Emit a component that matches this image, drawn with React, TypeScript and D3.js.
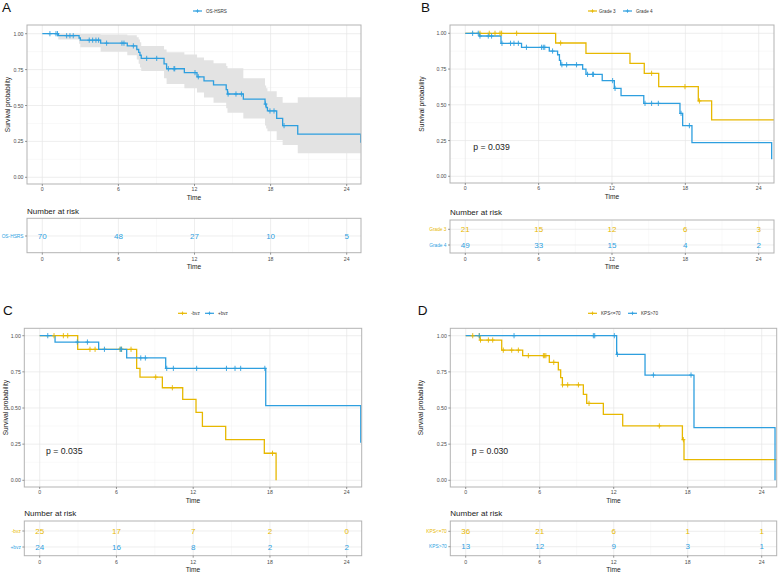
import React from 'react';
import * as d3 from 'd3';

const ORANGE = '#E7B800';
const BLUE = '#2E9FDF';
const FONT = '"Liberation Sans", Arial, Helvetica, sans-serif';

// ---------- Data ----------
const timeTicks = [0, 6, 12, 18, 24];
const timeMinor = [3, 9, 15, 21];
const survTicks = [0, 0.25, 0.5, 0.75, 1];
const survTickLabels = ['0.00', '0.25', '0.50', '0.75', '1.00'];
const survMinor = [0.125, 0.375, 0.625, 0.875];

// Panel A: OS-HSRS
const A_time = [0, 1.26, 2.9, 3.0, 4.6, 6.7, 7.45, 7.6, 7.7, 7.8, 9.6, 9.8, 11.2, 12.2, 12.75, 13.5, 14.5, 14.6, 15.85, 17.56, 17.65, 17.75, 18.48, 18.95, 20.14, 25.1];
const A_surv = [1, 0.986, 0.97, 0.955, 0.934, 0.915, 0.89, 0.87, 0.85, 0.828, 0.79, 0.756, 0.729, 0.70, 0.672, 0.644, 0.61, 0.58, 0.545, 0.51, 0.486, 0.462, 0.41, 0.36, 0.30, 0.24];
const A_upper = [1, 1, 1, 0.998, 0.995, 0.99, 0.975, 0.96, 0.94, 0.915, 0.89, 0.87, 0.855, 0.835, 0.815, 0.795, 0.775, 0.76, 0.69, 0.64, 0.62, 0.60, 0.56, 0.52, 0.557, 0.557];
const A_lower = [1, 0.96, 0.93, 0.905, 0.875, 0.85, 0.82, 0.79, 0.765, 0.74, 0.69, 0.65, 0.62, 0.59, 0.555, 0.52, 0.48, 0.45, 0.41, 0.36, 0.34, 0.32, 0.26, 0.225, 0.167, 0.12];
const A_censor = [0.6, 1.08, 1.2, 1.92, 2.18, 2.44, 3.7, 3.97, 4.23, 4.44, 5.07, 6.28, 6.44, 7.18, 8.23, 9.02, 9.94, 10.38, 10.44, 12.04, 12.3, 14.65, 15.27, 15.7, 17.6, 17.95, 18.27, 19.06];
const A_risk = [70, 48, 27, 10, 5];

// Panel B: Grade 3 / Grade 4
const B3_time = [0, 7.39, 9.87, 13.47, 14.64, 15.82, 19.06, 20.15, 25.4];
const B3_surv = [1, 0.932, 0.86, 0.79, 0.72, 0.627, 0.527, 0.394, 0.394];
const B3_censor = [1.2, 1.96, 2.43, 2.84, 2.97, 4.2, 7.8, 15.24, 17.97, 19.15];
const B3_risk = [21, 15, 12, 6, 3];
const B4_time = [0, 1.15, 2.92, 4.6, 6.87, 7.55, 7.7, 7.8, 9.6, 9.87, 11.2, 12.19, 12.74, 14.6, 17.56, 17.78, 18.54, 25.06];
const B4_surv = [1, 0.981, 0.93, 0.902, 0.876, 0.85, 0.81, 0.78, 0.75, 0.713, 0.669, 0.615, 0.564, 0.51, 0.44, 0.354, 0.235, 0.119];
const B4_censor = [0.6, 1.06, 1.2, 1.88, 2.15, 3.0, 3.7, 3.98, 4.34, 5.0, 6.24, 6.38, 6.5, 7.14, 7.9, 8.29, 9.1, 10.0, 10.42, 10.48, 12.05, 12.25, 14.7, 15.24, 15.79, 17.65, 18.33];
const B4_risk = [49, 33, 15, 4, 2];

// Panel C: -bvz / +bvz
const C1_time = [0, 2.97, 7.58, 7.84, 9.59, 11.18, 12.22, 12.72, 14.54, 17.56, 18.48];
const C1_surv = [1, 0.906, 0.774, 0.714, 0.64, 0.56, 0.47, 0.373, 0.281, 0.187, 0];
const C1_censor = [1.12, 1.85, 2.19, 3.93, 4.33, 6.28, 6.4, 7.14, 9.07, 10.37, 18.2];
const C1_risk = [25, 17, 7, 2, 0];
const C2_time = [0, 1.2, 4.61, 6.8, 9.85, 17.67, 25.1];
const C2_surv = [1, 0.956, 0.906, 0.846, 0.774, 0.516, 0.26];
const C2_censor = [0.63, 2.94, 3.73, 5.06, 6.3, 6.4, 7.9, 8.26, 9.93, 10.45, 12.27, 14.6, 15.27, 15.71, 17.6];
const C2_risk = [24, 16, 8, 2, 2];

// Panel D: KPS<=70 / KPS>70
const D1_time = [0, 1.16, 2.92, 4.62, 6.78, 7.51, 7.7, 7.84, 9.54, 9.81, 11.16, 12.73, 17.57, 17.7, 25.4];
const D1_surv = [1, 0.97, 0.90, 0.862, 0.816, 0.763, 0.71, 0.66, 0.594, 0.532, 0.456, 0.376, 0.281, 0.143, 0.143];
const D1_censor = [0.57, 1.1, 1.2, 1.84, 2.19, 3.05, 3.73, 4.27, 5.08, 6.3, 6.4, 6.5, 7.14, 7.85, 8.27, 9.14, 10.0, 15.7, 17.65];
const D1_risk = [36, 21, 6, 1, 1];
const D2_time = [0, 12.24, 14.54, 18.51, 25.08];
const D2_surv = [1, 0.871, 0.728, 0.364, 0];
const D2_censor = [1.1, 3.92, 10.35, 10.46, 12.05, 12.3, 15.22, 18.27];
const D2_risk = [13, 12, 9, 3, 1];

type Series = {
  name: string; color: string; time: number[]; surv: number[]; censor: number[];
  upper?: number[]; lower?: number[]; risk: number[];
};

const panelA: Series[] = [
  { name: 'OS-HSRS', color: BLUE, time: A_time, surv: A_surv, censor: A_censor, upper: A_upper, lower: A_lower, risk: A_risk },
];
const panelB: Series[] = [
  { name: 'Grade 3', color: ORANGE, time: B3_time, surv: B3_surv, censor: B3_censor, risk: B3_risk },
  { name: 'Grade 4', color: BLUE, time: B4_time, surv: B4_surv, censor: B4_censor, risk: B4_risk },
];
const panelC: Series[] = [
  { name: '-bvz', color: ORANGE, time: C1_time, surv: C1_surv, censor: C1_censor, risk: C1_risk },
  { name: '+bvz', color: BLUE, time: C2_time, surv: C2_surv, censor: C2_censor, risk: C2_risk },
];
const panelD: Series[] = [
  { name: 'KPS<=70', color: ORANGE, time: D1_time, surv: D1_surv, censor: D1_censor, risk: D1_risk },
  { name: 'KPS>70', color: BLUE, time: D2_time, surv: D2_surv, censor: D2_censor, risk: D2_risk },
];

type Layout = {
  id: string; letter: string; letterX: number; letterY: number;
  legendY: number; legend: { lx: number; tx: number }[];
  px0: number; px1: number; py0: number; py1: number;
  t0: number; t24: number; s1: number; s0: number;
  yTitleX: number; pval?: { x: number; y: number; text: string };
  rTitleY: number; ry0: number; ry1: number; rows: number[];
};

const layouts: Layout[] = [
  { id: 'A', letter: 'A', letterX: 2, letterY: 12, legendY: 11, legend: [{ lx: 193, tx: 206 }],
    px0: 27, px1: 361, py0: 25, py1: 184, t0: 42.3, t24: 346.7, s1: 33.7, s0: 177.3, yTitleX: 7,
    rTitleY: 211, ry0: 218.3, ry1: 252.7, rows: [236] },
  { id: 'B', letter: 'B', letterX: 421, letterY: 12, legendY: 11, legend: [{ lx: 588, tx: 599 }, { lx: 623, tx: 636 }],
    px0: 450, px1: 774, py0: 25, py1: 183, t0: 465.3, t24: 758.7, s1: 33.3, s0: 176.3, yTitleX: 421.7,
    pval: { x: 473.3, y: 147.3, text: 'p = 0.039' },
    rTitleY: 212.3, ry0: 220, ry1: 253, rows: [229.3, 245] },
  { id: 'C', letter: 'C', letterX: 3, letterY: 315, legendY: 313.3, legend: [{ lx: 178, tx: 191 }, { lx: 205, tx: 218 }],
    px0: 24.3, px1: 361.7, py0: 328.3, py1: 487, t0: 39.7, t24: 346.7, s1: 335.7, s0: 480.3, yTitleX: 5,
    pval: { x: 46, y: 451, text: 'p = 0.035' },
    rTitleY: 513.7, ry0: 521, ry1: 555.7, rows: [531, 547] },
  { id: 'D', letter: 'D', letterX: 417.7, letterY: 315, legendY: 313.3, legend: [{ lx: 588, tx: 601 }, { lx: 628, tx: 641 }],
    px0: 450.3, px1: 776.7, py0: 328.3, py1: 487, t0: 465.7, t24: 761.7, s1: 335.7, s0: 480.3, yTitleX: 420,
    pval: { x: 471.7, y: 451, text: 'p = 0.030' },
    rTitleY: 513.7, ry0: 521, ry1: 555.7, rows: [531.3, 546.7] },
];

const panelSeries: Series[][] = [panelA, panelB, panelC, panelD];

function survAt(time: number[], surv: number[], t: number) {
  let s = surv[0];
  for (let i = 0; i < time.length; i++) if (time[i] <= t) s = surv[i];
  return s;
}

const GRID_MAJOR = '#e6e6e6';
const GRID_MINOR = '#f3f3f3';
const BORDER = '#b3b3b3';
const AXIS_TEXT = '#4d4d4d';
const TICK_FS = 5.2;

function Panel({ L, series }: { L: Layout; series: Series[] }) {
  const x = d3.scaleLinear().domain([0, 24]).range([L.t0, L.t24]);
  const y = d3.scaleLinear().domain([0, 1]).range([L.s0, L.s1]);
  const clipId = 'clip-' + L.id;
  const line = (s: Series) =>
    d3.line<number>().x(i => x(s.time[i])).y(i => y(s.surv[i])).curve(d3.curveStepAfter)(d3.range(s.time.length)) || '';
  const band = (s: Series) =>
    d3.area<number>().x(i => x(s.time[i])).y0(i => y(s.lower![i])).y1(i => y(s.upper![i])).curve(d3.curveStepAfter)(d3.range(s.time.length)) || '';
  const midY = (L.py0 + L.py1) / 2;
  return (
    <g>
      <text x={L.letterX} y={L.letterY} fontSize={13.5} fill="#111">{L.letter}</text>
      {/* legend */}
      {series.map((s, i) => {
        const lg = L.legend[i];
        const cx = lg.lx + 4.5;
        return (
          <g key={'lg' + i}>
            <line x1={lg.lx} x2={lg.lx + 9} y1={L.legendY} y2={L.legendY} stroke={s.color} strokeWidth={1.2} />
            <path d={`M${cx - 1.8},${L.legendY}H${cx + 1.8}M${cx},${L.legendY - 1.8}V${L.legendY + 1.8}`} stroke={s.color} strokeWidth={0.8} />
            <text x={lg.tx} y={L.legendY} dominantBaseline="central" fontSize={4.6} fill="#333">{s.name}</text>
          </g>
        );
      })}
      <defs>
        <clipPath id={clipId}>
          <rect x={L.px0} y={L.py0} width={L.px1 - L.px0} height={L.py1 - L.py0} />
        </clipPath>
      </defs>
      {/* grid */}
      {timeMinor.map(t => <line key={'vm' + t} x1={x(t)} x2={x(t)} y1={L.py0} y2={L.py1} stroke={GRID_MINOR} strokeWidth={0.5} />)}
      {survMinor.map(v => <line key={'hm' + v} x1={L.px0} x2={L.px1} y1={y(v)} y2={y(v)} stroke={GRID_MINOR} strokeWidth={0.5} />)}
      {timeTicks.map(t => <line key={'vM' + t} x1={x(t)} x2={x(t)} y1={L.py0} y2={L.py1} stroke={GRID_MAJOR} strokeWidth={0.7} />)}
      {survTicks.map(v => <line key={'hM' + v} x1={L.px0} x2={L.px1} y1={y(v)} y2={y(v)} stroke={GRID_MAJOR} strokeWidth={0.7} />)}
      <g clipPath={`url(#${clipId})`}>
        {series.filter(s => s.upper).map((s, i) => <path key={'band' + i} d={band(s)} fill="#e3e3e3" />)}
        {series.map((s, i) => <path key={'ln' + i} d={line(s)} fill="none" stroke={s.color} strokeWidth={1.3} />)}
        {series.map((s, i) => (
          <g key={'cz' + i}>
            {s.censor.map((t, j) => {
              const cx = x(t), cy = y(survAt(s.time, s.surv, t));
              return <path key={j} d={`M${cx - 2},${cy}H${cx + 2}M${cx},${cy - 2.6}V${cy + 2.6}`} stroke={s.color} strokeWidth={0.9} />;
            })}
          </g>
        ))}
      </g>
      <rect x={L.px0} y={L.py0} width={L.px1 - L.px0} height={L.py1 - L.py0} fill="none" stroke={BORDER} strokeWidth={1} />
      {/* y axis */}
      {survTicks.map((v, i) => (
        <g key={'yt' + v}>
          <line x1={L.px0 - 2} x2={L.px0} y1={y(v)} y2={y(v)} stroke="#555" strokeWidth={0.6} />
          <text x={L.px0 - 3.5} y={y(v)} textAnchor="end" dominantBaseline="central" fontSize={TICK_FS} fill={AXIS_TEXT}>{survTickLabels[i]}</text>
        </g>
      ))}
      <text transform={`translate(${L.yTitleX},${midY}) rotate(-90)`} textAnchor="middle" dominantBaseline="central" fontSize={6.6} fill="#222">Survival probability</text>
      {/* x axis */}
      {timeTicks.map(t => (
        <g key={'xt' + t}>
          <line x1={x(t)} x2={x(t)} y1={L.py1} y2={L.py1 + 2} stroke="#555" strokeWidth={0.6} />
          <text x={x(t)} y={L.py1 + 5.2} textAnchor="middle" dominantBaseline="central" fontSize={TICK_FS} fill={AXIS_TEXT}>{t}</text>
        </g>
      ))}
      <text x={(L.px0 + L.px1) / 2} y={L.py1 + 13} textAnchor="middle" dominantBaseline="central" fontSize={6.6} fill="#222">Time</text>
      {L.pval && (
        <text x={L.pval.x} y={L.pval.y} dominantBaseline="central" fontSize={8.7} fill="#222">{L.pval.text}</text>
      )}
      {/* risk table */}
      <text x={L.px0} y={L.rTitleY} dominantBaseline="central" fontSize={8} fill="#222">Number at risk</text>
      {timeMinor.map(t => <line key={'rvm' + t} x1={x(t)} x2={x(t)} y1={L.ry0} y2={L.ry1} stroke={GRID_MINOR} strokeWidth={0.5} />)}
      {timeTicks.map(t => <line key={'rvM' + t} x1={x(t)} x2={x(t)} y1={L.ry0} y2={L.ry1} stroke={GRID_MAJOR} strokeWidth={0.7} />)}
      {L.rows.map((ry, i) => <line key={'rh' + i} x1={L.px0} x2={L.px1} y1={ry} y2={ry} stroke={GRID_MAJOR} strokeWidth={0.7} />)}
      <rect x={L.px0} y={L.ry0} width={L.px1 - L.px0} height={L.ry1 - L.ry0} fill="none" stroke={BORDER} strokeWidth={1} />
      {series.map((s, i) => (
        <g key={'rk' + i}>
          <line x1={L.px0 - 2} x2={L.px0} y1={L.rows[i]} y2={L.rows[i]} stroke="#555" strokeWidth={0.6} />
          <text x={L.px0 - 3.5} y={L.rows[i]} textAnchor="end" dominantBaseline="central" fontSize={4.8} fill={s.color}>{s.name}</text>
          {s.risk.map((n, j) => (
            <text key={j} x={x(timeTicks[j])} y={L.rows[i]} textAnchor="middle" dominantBaseline="central" fontSize={8} fill={s.color}>{n}</text>
          ))}
        </g>
      ))}
      {timeTicks.map(t => (
        <g key={'rxt' + t}>
          <line x1={x(t)} x2={x(t)} y1={L.ry1} y2={L.ry1 + 2} stroke="#555" strokeWidth={0.6} />
          <text x={x(t)} y={L.ry1 + 6} textAnchor="middle" dominantBaseline="central" fontSize={TICK_FS} fill={AXIS_TEXT}>{t}</text>
        </g>
      ))}
      <text x={(L.px0 + L.px1) / 2} y={L.ry1 + 13.5} textAnchor="middle" dominantBaseline="central" fontSize={6.6} fill="#222">Time</text>
    </g>
  );
}

export default function App() {
  return (
    <svg width={778} height={573} viewBox="0 0 778 573"
      style={{ position: 'fixed', left: 0, top: 0, background: '#fff', fontFamily: FONT }}>
      <rect x={0} y={0} width={778} height={573} fill="#fff" />
      {layouts.map((L, i) => <Panel key={L.id} L={L} series={panelSeries[i]} />)}
    </svg>
  );
}
